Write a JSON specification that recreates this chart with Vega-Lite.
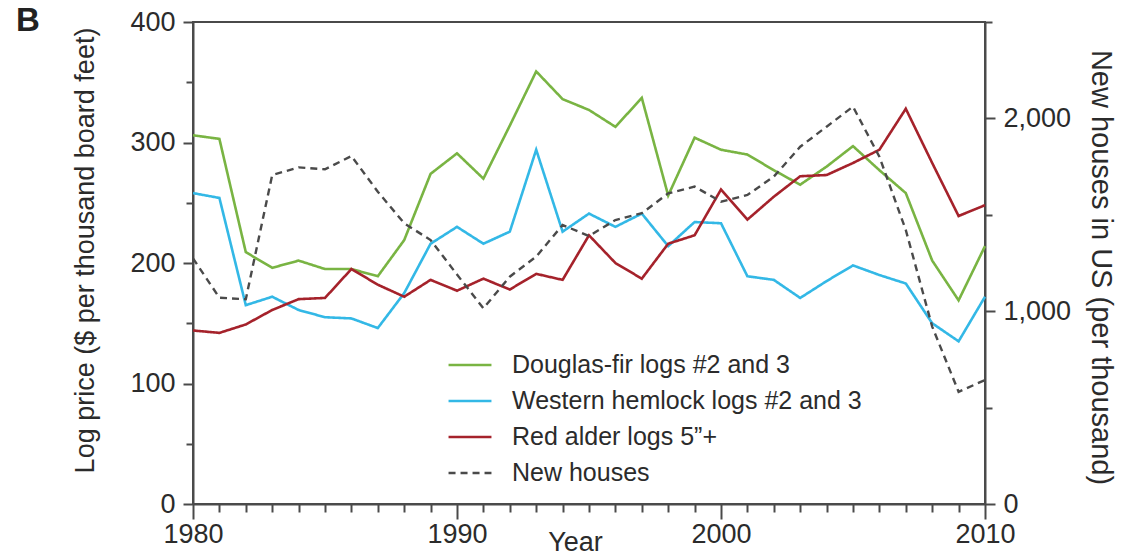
{
  "$schema": "https://vega.github.io/schema/vega-lite/v6.json",
  "width": 792,
  "height": 482,
  "autosize": {"type": "none"},
  "padding": {"left": 193, "top": 22, "right": 145, "bottom": 53},
  "background": "white",
  "config": {
    "font": "Liberation Sans",
    "view": {"stroke": "#4a4a4a", "strokeWidth": 2},
    "axis": {
      "grid": false,
      "domainColor": "#4a4a4a",
      "domainWidth": 2,
      "tickColor": "#4a4a4a",
      "tickWidth": 2,
      "labelFontSize": 27,
      "labelColor": "#2b2b2b",
      "labelFlush": false,
      "labelOverlap": false,
      "titleFontSize": 27,
      "titleFontWeight": "normal",
      "titleColor": "#2b2b2b"
    }
  },
  "title": {
    "text": "B",
    "anchor": "start",
    "frame": "group",
    "dx": -177,
    "offset": -56,
    "baseline": "alphabetic",
    "fontSize": 33,
    "fontWeight": "bold",
    "color": "#222222"
  },
  "data": {
    "values": [
      {"year": 1980, "series": "Douglas-fir logs #2 and 3", "value": 306},
      {"year": 1981, "series": "Douglas-fir logs #2 and 3", "value": 303},
      {"year": 1982, "series": "Douglas-fir logs #2 and 3", "value": 209},
      {"year": 1983, "series": "Douglas-fir logs #2 and 3", "value": 196},
      {"year": 1984, "series": "Douglas-fir logs #2 and 3", "value": 202},
      {"year": 1985, "series": "Douglas-fir logs #2 and 3", "value": 195},
      {"year": 1986, "series": "Douglas-fir logs #2 and 3", "value": 195},
      {"year": 1987, "series": "Douglas-fir logs #2 and 3", "value": 189},
      {"year": 1988, "series": "Douglas-fir logs #2 and 3", "value": 219},
      {"year": 1989, "series": "Douglas-fir logs #2 and 3", "value": 274},
      {"year": 1990, "series": "Douglas-fir logs #2 and 3", "value": 291},
      {"year": 1991, "series": "Douglas-fir logs #2 and 3", "value": 270},
      {"year": 1992, "series": "Douglas-fir logs #2 and 3", "value": 314},
      {"year": 1993, "series": "Douglas-fir logs #2 and 3", "value": 359},
      {"year": 1994, "series": "Douglas-fir logs #2 and 3", "value": 336},
      {"year": 1995, "series": "Douglas-fir logs #2 and 3", "value": 327},
      {"year": 1996, "series": "Douglas-fir logs #2 and 3", "value": 313},
      {"year": 1997, "series": "Douglas-fir logs #2 and 3", "value": 337},
      {"year": 1998, "series": "Douglas-fir logs #2 and 3", "value": 256},
      {"year": 1999, "series": "Douglas-fir logs #2 and 3", "value": 304},
      {"year": 2000, "series": "Douglas-fir logs #2 and 3", "value": 294},
      {"year": 2001, "series": "Douglas-fir logs #2 and 3", "value": 290},
      {"year": 2002, "series": "Douglas-fir logs #2 and 3", "value": 277},
      {"year": 2003, "series": "Douglas-fir logs #2 and 3", "value": 265},
      {"year": 2004, "series": "Douglas-fir logs #2 and 3", "value": 280},
      {"year": 2005, "series": "Douglas-fir logs #2 and 3", "value": 297},
      {"year": 2006, "series": "Douglas-fir logs #2 and 3", "value": 277},
      {"year": 2007, "series": "Douglas-fir logs #2 and 3", "value": 258},
      {"year": 2008, "series": "Douglas-fir logs #2 and 3", "value": 202},
      {"year": 2009, "series": "Douglas-fir logs #2 and 3", "value": 169},
      {"year": 2010, "series": "Douglas-fir logs #2 and 3", "value": 214},
      {"year": 1980, "series": "Western hemlock logs #2 and 3", "value": 258},
      {"year": 1981, "series": "Western hemlock logs #2 and 3", "value": 254},
      {"year": 1982, "series": "Western hemlock logs #2 and 3", "value": 165},
      {"year": 1983, "series": "Western hemlock logs #2 and 3", "value": 172},
      {"year": 1984, "series": "Western hemlock logs #2 and 3", "value": 161},
      {"year": 1985, "series": "Western hemlock logs #2 and 3", "value": 155},
      {"year": 1986, "series": "Western hemlock logs #2 and 3", "value": 154},
      {"year": 1987, "series": "Western hemlock logs #2 and 3", "value": 146},
      {"year": 1988, "series": "Western hemlock logs #2 and 3", "value": 175},
      {"year": 1989, "series": "Western hemlock logs #2 and 3", "value": 216},
      {"year": 1990, "series": "Western hemlock logs #2 and 3", "value": 230},
      {"year": 1991, "series": "Western hemlock logs #2 and 3", "value": 216},
      {"year": 1992, "series": "Western hemlock logs #2 and 3", "value": 226},
      {"year": 1993, "series": "Western hemlock logs #2 and 3", "value": 294},
      {"year": 1994, "series": "Western hemlock logs #2 and 3", "value": 226},
      {"year": 1995, "series": "Western hemlock logs #2 and 3", "value": 241},
      {"year": 1996, "series": "Western hemlock logs #2 and 3", "value": 230},
      {"year": 1997, "series": "Western hemlock logs #2 and 3", "value": 241},
      {"year": 1998, "series": "Western hemlock logs #2 and 3", "value": 214},
      {"year": 1999, "series": "Western hemlock logs #2 and 3", "value": 234},
      {"year": 2000, "series": "Western hemlock logs #2 and 3", "value": 233},
      {"year": 2001, "series": "Western hemlock logs #2 and 3", "value": 189},
      {"year": 2002, "series": "Western hemlock logs #2 and 3", "value": 186},
      {"year": 2003, "series": "Western hemlock logs #2 and 3", "value": 171},
      {"year": 2004, "series": "Western hemlock logs #2 and 3", "value": 185},
      {"year": 2005, "series": "Western hemlock logs #2 and 3", "value": 198},
      {"year": 2006, "series": "Western hemlock logs #2 and 3", "value": 190},
      {"year": 2007, "series": "Western hemlock logs #2 and 3", "value": 183},
      {"year": 2008, "series": "Western hemlock logs #2 and 3", "value": 150},
      {"year": 2009, "series": "Western hemlock logs #2 and 3", "value": 135},
      {"year": 2010, "series": "Western hemlock logs #2 and 3", "value": 172},
      {"year": 1980, "series": "Red alder logs 5”+", "value": 144},
      {"year": 1981, "series": "Red alder logs 5”+", "value": 142},
      {"year": 1982, "series": "Red alder logs 5”+", "value": 149},
      {"year": 1983, "series": "Red alder logs 5”+", "value": 161},
      {"year": 1984, "series": "Red alder logs 5”+", "value": 170},
      {"year": 1985, "series": "Red alder logs 5”+", "value": 171},
      {"year": 1986, "series": "Red alder logs 5”+", "value": 195},
      {"year": 1987, "series": "Red alder logs 5”+", "value": 182},
      {"year": 1988, "series": "Red alder logs 5”+", "value": 172},
      {"year": 1989, "series": "Red alder logs 5”+", "value": 186},
      {"year": 1990, "series": "Red alder logs 5”+", "value": 177},
      {"year": 1991, "series": "Red alder logs 5”+", "value": 187},
      {"year": 1992, "series": "Red alder logs 5”+", "value": 178},
      {"year": 1993, "series": "Red alder logs 5”+", "value": 191},
      {"year": 1994, "series": "Red alder logs 5”+", "value": 186},
      {"year": 1995, "series": "Red alder logs 5”+", "value": 223},
      {"year": 1996, "series": "Red alder logs 5”+", "value": 200},
      {"year": 1997, "series": "Red alder logs 5”+", "value": 187},
      {"year": 1998, "series": "Red alder logs 5”+", "value": 216},
      {"year": 1999, "series": "Red alder logs 5”+", "value": 223},
      {"year": 2000, "series": "Red alder logs 5”+", "value": 261},
      {"year": 2001, "series": "Red alder logs 5”+", "value": 236},
      {"year": 2002, "series": "Red alder logs 5”+", "value": 255},
      {"year": 2003, "series": "Red alder logs 5”+", "value": 272},
      {"year": 2004, "series": "Red alder logs 5”+", "value": 273},
      {"year": 2005, "series": "Red alder logs 5”+", "value": 283},
      {"year": 2006, "series": "Red alder logs 5”+", "value": 294},
      {"year": 2007, "series": "Red alder logs 5”+", "value": 328},
      {"year": 2008, "series": "Red alder logs 5”+", "value": 283},
      {"year": 2009, "series": "Red alder logs 5”+", "value": 239},
      {"year": 2010, "series": "Red alder logs 5”+", "value": 248},
      {"year": 1980, "series": "New houses", "value": 1274},
      {"year": 1981, "series": "New houses", "value": 1070},
      {"year": 1982, "series": "New houses", "value": 1062},
      {"year": 1983, "series": "New houses", "value": 1706},
      {"year": 1984, "series": "New houses", "value": 1746},
      {"year": 1985, "series": "New houses", "value": 1736},
      {"year": 1986, "series": "New houses", "value": 1805},
      {"year": 1987, "series": "New houses", "value": 1620},
      {"year": 1988, "series": "New houses", "value": 1456},
      {"year": 1989, "series": "New houses", "value": 1369},
      {"year": 1990, "series": "New houses", "value": 1190},
      {"year": 1991, "series": "New houses", "value": 1015},
      {"year": 1992, "series": "New houses", "value": 1179},
      {"year": 1993, "series": "New houses", "value": 1283},
      {"year": 1994, "series": "New houses", "value": 1447},
      {"year": 1995, "series": "New houses", "value": 1390},
      {"year": 1996, "series": "New houses", "value": 1473},
      {"year": 1997, "series": "New houses", "value": 1508},
      {"year": 1998, "series": "New houses", "value": 1611},
      {"year": 1999, "series": "New houses", "value": 1646},
      {"year": 2000, "series": "New houses", "value": 1568},
      {"year": 2001, "series": "New houses", "value": 1603},
      {"year": 2002, "series": "New houses", "value": 1698},
      {"year": 2003, "series": "New houses", "value": 1853},
      {"year": 2004, "series": "New houses", "value": 1957},
      {"year": 2005, "series": "New houses", "value": 2061},
      {"year": 2006, "series": "New houses", "value": 1801},
      {"year": 2007, "series": "New houses", "value": 1421},
      {"year": 2008, "series": "New houses", "value": 920},
      {"year": 2009, "series": "New houses", "value": 582},
      {"year": 2010, "series": "New houses", "value": 643}
    ]
  },
  "encoding": {
    "x": {
      "field": "year",
      "type": "quantitative",
      "scale": {"domain": [1980, 2010], "nice": false, "zero": false},
      "axis": {
        "title": "Year",
        "values": [1980, 1981, 1982, 1983, 1984, 1985, 1986, 1987, 1988, 1989, 1990, 1991, 1992, 1993, 1994, 1995, 1996, 1997, 1998, 1999, 2000, 2001, 2002, 2003, 2004, 2005, 2006, 2007, 2008, 2009, 2010],
        "format": "d",
        "labelExpr": "datum.value % 10 === 0 ? datum.label : ''",
        "tickSize": {"condition": {"test": "datum.value % 10 === 0", "value": 15}, "value": 8},
        "labelPadding": 2,
        "titleX": 382,
        "titleY": 38,
        "titleBaseline": "middle"
      }
    },
    "color": {
      "field": "series",
      "type": "nominal",
      "scale": {
        "domain": ["Douglas-fir logs #2 and 3", "Western hemlock logs #2 and 3", "Red alder logs 5”+", "New houses"],
        "range": ["#79b443", "#33b8e6", "#a5222b", "#4a4a4a"]
      },
      "legend": {
        "title": null,
        "orient": "none",
        "legendX": 257,
        "legendY": 323,
        "padding": 0,
        "rowPadding": 3,
        "symbolType": "M-1.16,0H1.16",
        "symbolSize": 1369,
        "symbolStrokeWidth": 2.6,
        "labelFontSize": 25,
        "labelOffset": 22,
        "labelColor": "#2b2b2b",
        "labelLimit": 600
      }
    },
    "strokeDash": {
      "field": "series",
      "type": "nominal",
      "scale": {
        "domain": ["Douglas-fir logs #2 and 3", "Western hemlock logs #2 and 3", "Red alder logs 5”+", "New houses"],
        "range": [[1, 0], [1, 0], [1, 0], [7, 5]]
      },
      "legend": {
        "title": null,
        "orient": "none",
        "legendX": 257,
        "legendY": 323,
        "padding": 0,
        "rowPadding": 3,
        "symbolType": "M-1.16,0H1.16",
        "symbolSize": 1369,
        "symbolStrokeWidth": 2.6,
        "labelFontSize": 25,
        "labelOffset": 22,
        "labelColor": "#2b2b2b",
        "labelLimit": 600
      }
    }
  },
  "layer": [
    {
      "transform": [{"filter": "datum.series !== 'New houses'"}],
      "mark": {"type": "line", "strokeWidth": 2.6},
      "encoding": {
        "y": {
          "field": "value",
          "type": "quantitative",
          "scale": {"domain": [0, 400], "nice": false},
          "axis": {
            "orient": "left",
            "title": "Log price ($ per thousand board feet)",
            "values": [0, 50, 100, 150, 200, 250, 300, 350, 400],
            "labelExpr": "datum.value % 100 === 0 ? datum.label : ''",
            "tickSize": {"condition": {"test": "datum.value % 100 === 0", "value": 10}, "value": 7},
            "labelPadding": 8,
            "titleAngle": -90,
            "titleX": -108,
            "titleY": 228,
            "titleBaseline": "middle",
            "titleAlign": "center"
          }
        }
      }
    },
    {
      "transform": [{"filter": "datum.series === 'New houses'"}],
      "mark": {"type": "line", "strokeWidth": 2.4},
      "encoding": {
        "y": {
          "field": "value",
          "type": "quantitative",
          "scale": {"domain": [0, 2500], "nice": false},
          "axis": {
            "orient": "right",
            "title": "New houses in US (per thousand)",
            "values": [0, 500, 1000, 1500, 2000, 2500],
            "format": ",d",
            "labelExpr": "datum.value % 1000 === 0 ? datum.label : ''",
            "tickSize": {"condition": {"test": "datum.value % 1000 === 0", "value": 10}, "value": 7},
            "labelPadding": 8,
            "titleFontSize": 29,
            "titleAngle": 90,
            "titleX": 115,
            "titleY": 245,
            "titleBaseline": "middle",
            "titleAlign": "center"
          }
        }
      }
    }
  ],
  "resolve": {"scale": {"y": "independent"}}
}
